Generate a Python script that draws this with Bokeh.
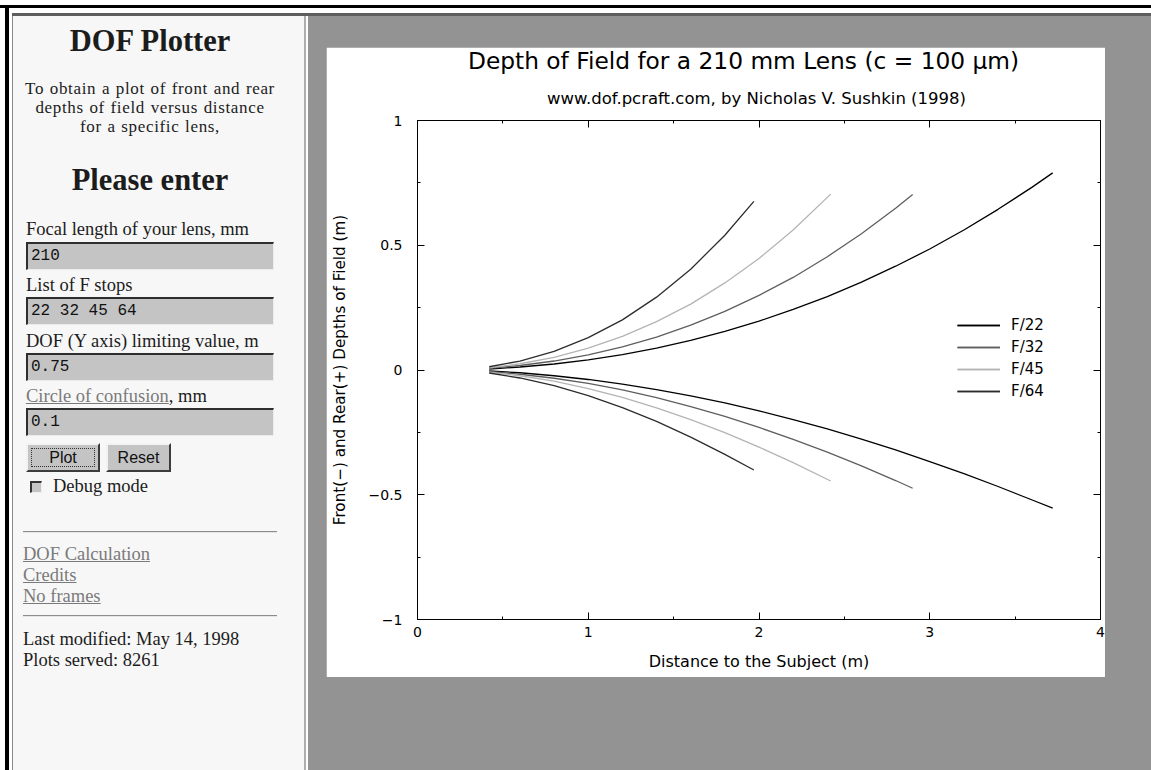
from bokeh.plotting import figure
from bokeh.models import (Div, Range1d, LinearAxis, FixedTicker, Legend, LegendItem,
                          Title, CustomJSTickFormatter)
from bokeh.layouts import row, column
from bokeh.embed import file_html
from bokeh.resources import INLINE

# ---------------- data ----------------
f_stops = ["F/22", "F/32", "F/45", "F/64"]

dist_f22 = [0.42, 0.6, 0.8, 1.0, 1.2, 1.4, 1.6, 1.8, 2.0, 2.2, 2.4, 2.6, 2.8, 3.0, 3.2, 3.4, 3.6, 3.72]
rear_f22 = [0.004, 0.012, 0.024, 0.041, 0.062, 0.088, 0.119, 0.155, 0.196, 0.243, 0.294, 0.352,
            0.416, 0.485, 0.561, 0.644, 0.733, 0.790]
front_f22 = [-0.004, -0.011, -0.023, -0.038, -0.057, -0.079, -0.104, -0.132, -0.164, -0.199, -0.236,
             -0.277, -0.320, -0.367, -0.415, -0.467, -0.521, -0.554]

dist_f32 = [0.42, 0.6, 0.8, 1.0, 1.2, 1.4, 1.6, 1.8, 2.0, 2.2, 2.4, 2.6, 2.8, 2.9]
rear_f32 = [0.007, 0.018, 0.036, 0.061, 0.093, 0.132, 0.180, 0.235, 0.299, 0.371, 0.454, 0.546, 0.648, 0.703]
front_f32 = [-0.006, -0.017, -0.033, -0.054, -0.080, -0.111, -0.147, -0.186, -0.230, -0.278, -0.329,
             -0.384, -0.443, -0.474]

dist_f45 = [0.42, 0.6, 0.8, 1.0, 1.2, 1.4, 1.6, 1.8, 2.0, 2.2, 2.42]
rear_f45 = [0.009, 0.025, 0.051, 0.088, 0.135, 0.194, 0.264, 0.349, 0.447, 0.561, 0.705]
front_f45 = [-0.009, -0.023, -0.045, -0.075, -0.110, -0.152, -0.199, -0.251, -0.309, -0.371, -0.445]

dist_f64 = [0.42, 0.6, 0.8, 1.0, 1.2, 1.4, 1.6, 1.8, 1.97]
rear_f64 = [0.013, 0.036, 0.075, 0.130, 0.201, 0.292, 0.404, 0.540, 0.676]
front_f64 = [-0.012, -0.032, -0.063, -0.103, -0.151, -0.206, -0.269, -0.338, -0.401]

x_ticks = [0, 1, 2, 3, 4]
x_minor_ticks = [0.5, 1.5, 2.5, 3.5]
y_ticks = [-1, -0.5, 0, 0.5, 1]
y_tick_labels = ["\u22121", "\u22120.5", "0", "0.5", "1"]
y_minor_ticks = [-0.75, -0.25, 0.25, 0.75]

title_text = "Depth of Field for a 210 mm Lens (c = 100 \u03bcm)"
subtitle_text = "www.dof.pcraft.com, by Nicholas V. Sushkin (1998)"
x_label = "Distance to the Subject (m)"
y_label = "Front(\u2212) and Rear(+) Depths of Field (m)"

line_colors = ["#000000", "#5e5e5e", "#b4b4b4", "#2c2c2c"]

SANS = "DejaVu Sans"

# ---------------- chart ----------------
p = figure(width=779, height=630, x_range=Range1d(0, 4), y_range=Range1d(-1, 1),
           output_backend="svg", toolbar_location=None,
           min_border_left=91, min_border_right=5, min_border_top=73, min_border_bottom=58,
           margin=(31, 46, 93, 18),
           background_fill_color="white", border_fill_color="white",
           outline_line_color="black", outline_line_width=1)
p.grid.visible = False

p.title.text = title_text
p.title.text_font = SANS
p.title.text_font_size = "23.3px"
p.title.text_font_style = "normal"
p.title.text_color = "black"
p.title.align = "left"
p.title.offset = 50.5
p.title.vertical_align = "top"
p.title.standoff = -2
p.title.text_line_height = 1.0

def style_axis(ax, ticks, minor, show_labels):
    ax.ticker = FixedTicker(ticks=ticks, minor_ticks=minor)
    ax.major_tick_in = 7
    ax.major_tick_out = 0
    ax.minor_tick_in = 3
    ax.minor_tick_out = 0
    ax.axis_line_color = "black"
    ax.major_tick_line_color = "black"
    ax.minor_tick_line_color = "black"
    ax.major_label_text_font = SANS
    ax.major_label_text_color = "black"
    if show_labels:
        ax.major_label_text_font_size = "14px"
    else:
        ax.major_label_text_font_size = "0px"
        ax.major_label_standoff = 0
        ax.formatter = CustomJSTickFormatter(code="return ''")

xa = p.xaxis[0]
style_axis(xa, x_ticks, x_minor_ticks, True)
xa.major_label_standoff = 7
xa.axis_label = x_label
xa.axis_label_text_font = SANS
xa.axis_label_text_font_size = "16px"
xa.axis_label_text_font_style = "normal"
xa.axis_label_text_color = "black"
xa.axis_label_standoff = 12

ya = p.yaxis[0]
style_axis(ya, y_ticks, y_minor_ticks, True)
ya.major_label_standoff = 15
ya.major_label_overrides = {t: lab for t, lab in zip(y_ticks, y_tick_labels)}
ya.axis_label = y_label
ya.axis_label_text_font = SANS
ya.axis_label_text_font_size = "15.2px"
ya.axis_label_text_font_style = "normal"
ya.axis_label_text_color = "black"
ya.axis_label_standoff = 17

top_ax = LinearAxis()
style_axis(top_ax, x_ticks, x_minor_ticks, False)
right_ax = LinearAxis()
style_axis(right_ax, y_ticks, y_minor_ticks, False)
p.add_layout(top_ax, "above")
p.add_layout(right_ax, "right")

sub = Title(text=subtitle_text, text_font=SANS, text_font_size="16.5px",
            text_font_style="normal", text_color="black", align="left", offset=129.5,
            vertical_align="bottom", standoff=25)
p.add_layout(sub, "above")

series = [
    (dist_f22, rear_f22, front_f22),
    (dist_f32, rear_f32, front_f32),
    (dist_f45, rear_f45, front_f45),
    (dist_f64, rear_f64, front_f64),
]
items = []
for name, (d, r, f), col in zip(f_stops, series, line_colors):
    r1 = p.line(d, r, line_color=col, line_width=1.3)
    r2 = p.line(d, f, line_color=col, line_width=1.3)
    items.append(LegendItem(label=name, renderers=[r1, r2]))

legend = Legend(items=items, location=(540, 217), glyph_width=43, glyph_height=22,
                label_height=22, label_standoff=11, spacing=0, padding=0, margin=0,
                border_line_color=None, background_fill_alpha=0,
                label_text_font=SANS, label_text_font_size="15px", label_text_color="black")
p.add_layout(legend)

# ---------------- sidebar (HTML form look-alike) ----------------
def txt(left, top, h, content, size="18.5px", extra=""):
    return (f'<div style="position:absolute;left:{left}px;top:{top}px;height:{h}px;'
            f'line-height:{h}px;font-size:{size};white-space:nowrap;{extra}">{content}</div>')

def center_txt(top, h, content, size, extra=""):
    return (f'<div style="position:absolute;left:8px;top:{top}px;width:284px;height:{h}px;'
            f'line-height:{h}px;font-size:{size};text-align:center;white-space:nowrap;{extra}">{content}</div>')

def inp(top, value):
    return (f'<div style="position:absolute;left:26px;top:{top}px;width:248px;height:28px;'
            'box-sizing:border-box;background:#c4c4c4;border-top:2px solid #2e2e2e;'
            'border-left:2px solid #2e2e2e;border-bottom:1px solid #ececec;border-right:1px solid #ececec;'
            "font-family:'Liberation Mono',monospace;font-size:16px;line-height:25px;padding-left:3px;"
            f'color:#111;white-space:pre">{value}</div>')

def button(left, width, label, focus=False):
    inner = label
    if focus:
        inner = (f'<div style="position:absolute;left:3px;top:3px;right:3px;bottom:3px;'
                 f'border:1px dotted #333;"></div>{label}')
    return (f'<div style="position:absolute;left:{left}px;top:427px;width:{width}px;height:29px;'
            'box-sizing:border-box;background:#c4c4c4;border-top:2px solid #f2f2f2;'
            'border-left:2px solid #f2f2f2;border-bottom:2px solid #3c3c3c;border-right:2px solid #3c3c3c;'
            "font-family:'Liberation Sans',sans-serif;font-size:16px;line-height:25px;text-align:center;"
            f'color:#111;">{inner}</div>')

def hr(top):
    return (f'<div style="position:absolute;left:23px;top:{top}px;width:254px;height:0px;'
            'border-top:1px solid #8c8c8c;border-bottom:1px solid #e4e4e4;"></div>')

link = "color:#7a7a7a;text-decoration:underline;"
para = "letter-spacing:0.65px;word-spacing:0.8px;"

side_html = (
    '<div style="position:relative;width:308px;height:754px;background:#ffffff;'
    "font-family:'Liberation Serif',serif;color:#1c1c1c;overflow:hidden;\">"
    '<div style="position:absolute;left:5px;top:0px;width:4px;height:754px;background:#000;"></div>'
    '<div style="position:absolute;left:12px;top:0px;width:294px;height:754px;background:#f7f7f7;'
    'border-left:1px solid #8a8a8a;border-right:2px solid #acacac;"></div>'
    + center_txt(10, 31, "<b>DOF Plotter</b>", "30.5px")
    + center_txt(63, 19, "To obtain a plot of front and rear", "17px", para)
    + center_txt(82, 19, "depths of field versus distance", "17px", para)
    + center_txt(100.5, 19, "for a specific lens,", "17px", para)
    + center_txt(149, 31, "<b>Please enter</b>", "30.5px")
    + txt(26, 203, 20, "Focal length of your lens, mm")
    + inp(226, "210")
    + txt(26, 259, 20, "List of F stops")
    + inp(281, "22 32 45 64")
    + txt(26, 315, 20, "DOF (Y axis) limiting value, m")
    + inp(337, "0.75")
    + txt(26, 370, 20, f'<span style="{link}">Circle of confusion</span>, mm')
    + inp(392, "0.1")
    + button(26, 74, "Plot", focus=True)
    + button(106, 65, "Reset")
    + '<div style="position:absolute;left:30px;top:465px;width:12px;height:12px;box-sizing:border-box;'
      'background:#c4c4c4;border-top:2px solid #333;border-left:2px solid #333;'
      'border-bottom:1px solid #eee;border-right:1px solid #eee;"></div>'
    + txt(53, 460, 20, "Debug mode")
    + hr(515)
    + txt(23, 528, 21, f'<span style="{link}">DOF Calculation</span>')
    + txt(23, 549, 21, f'<span style="{link}">Credits</span>')
    + txt(23, 570, 21, f'<span style="{link}">No frames</span>')
    + hr(599)
    + txt(23, 613, 20, "Last modified: May 14, 1998")
    + txt(23, 634, 20, "Plots served: 8261")
    + '</div>'
)

top_html = (
    '<div style="position:relative;width:1151px;height:16px;background:#ffffff;overflow:hidden;">'
    '<div style="position:absolute;left:0px;top:5px;width:1151px;height:3px;background:#000;"></div>'
    '<div style="position:absolute;left:5px;top:5px;width:4px;height:11px;background:#000;"></div>'
    '<div style="position:absolute;left:12px;top:13px;width:1139px;height:3px;background:#5e5e5e;"></div>'
    '</div>'
)

top_strip = Div(text=top_html, width=1151, height=16, margin=0)
side = Div(text=side_html, width=308, height=754, margin=0)
chart_box = column(p, width=843, height=754, margin=0,
                   styles={"background-color": "#939393"})
body = row(side, chart_box, width=1151, height=754, margin=0)
page = column(top_strip, body, width=1151, height=770, margin=0)

open("out.html", "w").write(file_html(page, INLINE))
